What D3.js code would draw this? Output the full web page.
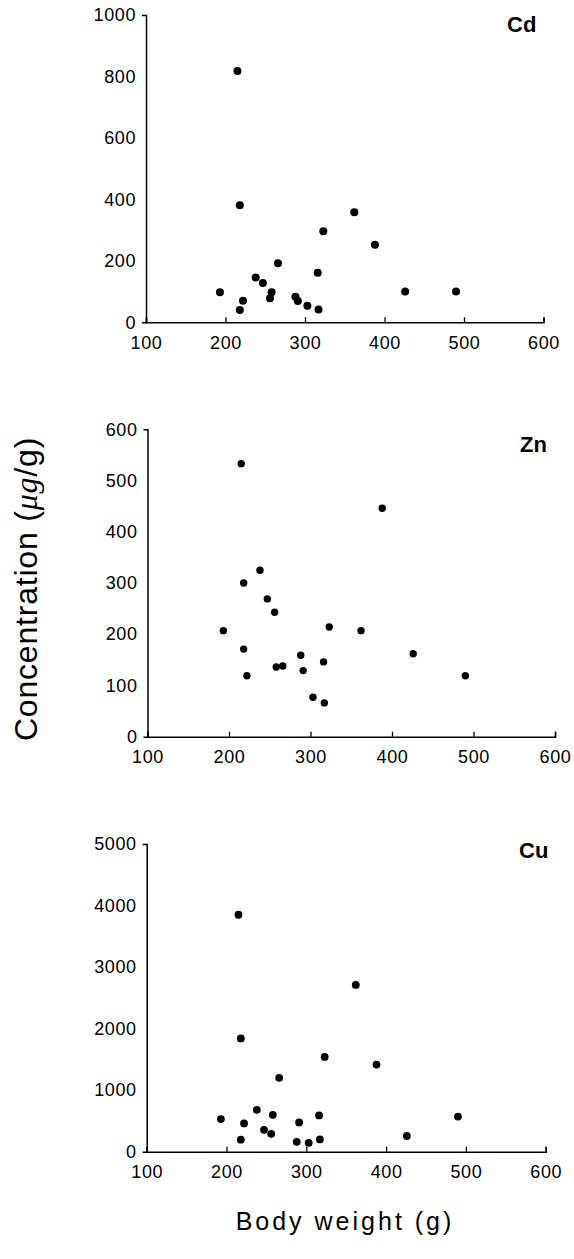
<!DOCTYPE html>
<html>
<head>
<meta charset="utf-8">
<script src="https://cdn.jsdelivr.net/npm/d3@7"></script>
<style>
  html, body { margin: 0; padding: 0; background: #fff; }
  svg { display: block; }
</style>
</head>
<body>
<svg id="chart" width="574" height="1259"></svg>
<script>
// Body weight (g) of each animal, shared by all three panels
const bodyWeight = [193, 215, 218, 218, 222, 238, 247, 256, 258, 266, 288, 291, 303, 316, 317, 323, 362, 388, 426, 490];

// Tissue concentrations (µg/g) per metal, same animal order as bodyWeight
const cadmium = [98, 818, 381, 40, 70, 146, 128, 78, 98, 192, 83, 69, 54, 161, 42, 296, 358, 252, 100, 100];
const zinc    = [207, 533, 300, 171, 119, 325, 269, 243, 136, 138, 159, 129, 77, 146, 66, 214, 207, 446, 162, 119];
const copper  = [530, 3850, 1840, 195, 460, 680, 355, 290, 600, 1200, 160, 475, 145, 590, 200, 1540, 2710, 1415, 255, 570];

const metalNames = ["Cd", "Zn", "Cu"];
const xTicks = [100, 200, 300, 400, 500, 600];
const cdTicks = [0, 200, 400, 600, 800, 1000];
const znTicks = [0, 100, 200, 300, 400, 500, 600];
const cuTicks = [0, 1000, 2000, 3000, 4000, 5000];

const FONT = "Liberation Sans, Arial, Helvetica, sans-serif";
const svg = d3.select("#chart");

// Panel placement
const panels = [
  { name: metalNames[0], values: cadmium, ticks: cdTicks, x: [146, 543.5], y: [322.3, 15], r: 4, label: [507, 31.5] },
  { name: metalNames[1], values: zinc,    ticks: znTicks, x: [147.5, 555], y: [736.7, 429.3], r: 3.7, label: [520, 451.5] },
  { name: metalNames[2], values: copper,  ticks: cuTicks, x: [146.7, 545.7], y: [1151.7, 844], r: 3.9, label: [519, 857.5] }
];

panels.forEach(p => {
  const x = d3.scaleLinear().domain([xTicks[0], xTicks[xTicks.length - 1]]).range(p.x);
  const y = d3.scaleLinear().domain([p.ticks[0], p.ticks[p.ticks.length - 1]]).range(p.y);
  const g = svg.append("g");

  // y axis: labels only, with small stubs at the ends
  const ya = g.append("g")
    .attr("transform", `translate(${p.x[0]},0)`)
    .call(d3.axisLeft(y).tickValues(p.ticks).tickFormat(d3.format("d"))
      .tickSizeInner(0).tickSizeOuter(4).tickPadding(10));

  // x axis: ticks pointing up into the plot
  const xa = g.append("g")
    .attr("transform", `translate(0,${p.y[0]})`)
    .call(d3.axisBottom(x).tickValues(xTicks).tickFormat(d3.format("d"))
      .tickSizeInner(-5).tickSizeOuter(-5).tickPadding(14));

  [ya, xa].forEach(a => {
    a.attr("font-family", FONT).attr("font-size", 18);
    a.select(".domain").attr("stroke", "#000").attr("stroke-width", 1.5);
    a.selectAll(".tick line").attr("stroke", "#000").attr("stroke-width", 1.3);
    a.selectAll(".tick text").attr("fill", "#000").attr("letter-spacing", "0.6px");
  });

  // data points
  g.append("g").selectAll("circle")
    .data(p.values.map((v, i) => [bodyWeight[i], v]))
    .join("circle")
    .attr("cx", d => x(d[0]))
    .attr("cy", d => y(d[1]))
    .attr("r", p.r)
    .attr("fill", "#000");

  // metal label
  g.append("text")
    .attr("x", p.label[0])
    .attr("y", p.label[1])
    .attr("font-family", FONT)
    .attr("font-weight", "bold")
    .attr("font-size", 22)
    .text(p.name);
});

// shared y-axis title
const yt = svg.append("text")
  .attr("transform", "translate(37,589) rotate(-90)")
  .attr("text-anchor", "middle")
  .attr("font-family", FONT)
  .attr("font-size", 32)
  .attr("letter-spacing", "0.8px");
yt.append("tspan").text("Concentration (");
yt.append("tspan").attr("font-family", "Liberation Serif, Times New Roman, serif").attr("font-style", "italic").text("\u03BCg");
yt.append("tspan").text("/g)");

// shared x-axis title
svg.append("text")
  .attr("x", 345)
  .attr("y", 1230)
  .attr("text-anchor", "middle")
  .attr("font-family", FONT)
  .attr("font-size", 25)
  .attr("letter-spacing", "3px")
  .text("Body weight (g)");
</script>
</body>
</html>
